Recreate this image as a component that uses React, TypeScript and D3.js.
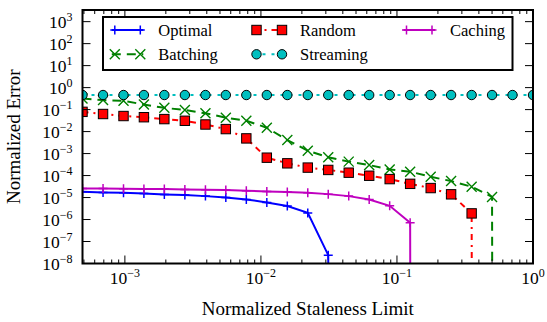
import React from 'react';
import * as d3 from 'd3';

// normalized staleness limits (x positions of all samples)
const staleness = [
  0.000488, 0.000691, 0.000977, 0.00138, 0.00195, 0.00276, 0.00391, 0.00552,
  0.00781, 0.01105, 0.01563, 0.0221, 0.03125, 0.0442, 0.0625, 0.0884,
  0.125, 0.177, 0.25, 0.354, 0.5, 0.707, 1.0,
];

// a 0 means the error dropped to zero (line falls off the bottom)
const optimal = [1.82e-5, 1.71e-5, 1.64e-5, 1.54e-5, 1.39e-5, 1.29e-5, 1.16e-5, 1.01e-5, 8.2e-6, 6.0e-6, 4.1e-6, 2.0e-6, 2.4e-8, 0];
const batching = [0.32, 0.27, 0.25, 0.17, 0.12, 0.096, 0.068, 0.043, 0.031, 0.015, 0.0041, 0.00135, 6.8e-4, 4.3e-4, 3.0e-4, 1.9e-4, 1.5e-4, 8.8e-5, 5.6e-5, 3.1e-5, 1.07e-5, 0];
const random = [0.079, 0.063, 0.051, 0.045, 0.037, 0.031, 0.021, 0.013, 0.0049, 6.5e-4, 3.6e-4, 2.3e-4, 1.8e-4, 1.35e-4, 9.8e-5, 6.9e-5, 4.2e-5, 2.7e-5, 1.4e-5, 1.9e-6, 0];
const streaming = [0.46, 0.46, 0.46, 0.46, 0.46, 0.46, 0.46, 0.46, 0.46, 0.46, 0.46, 0.46, 0.46, 0.46, 0.46, 0.46, 0.46, 0.46, 0.46, 0.46, 0.46, 0.46, 0.46];
const caching = [2.55e-5, 2.55e-5, 2.49e-5, 2.42e-5, 2.42e-5, 2.34e-5, 2.25e-5, 2.18e-5, 2.02e-5, 1.9e-5, 1.77e-5, 1.64e-5, 1.43e-5, 1.16e-5, 8.2e-6, 4.2e-6, 7.1e-7, 0];

const yExponents = [3, 2, 1, 0, -1, -2, -3, -4, -5, -6, -7, -8];
const xExponents = [-3, -2, -1, 0];

const FONT = '"Liberation Serif", "DejaVu Serif", serif';

const series = [
  { name: 'Optimal', values: optimal, color: '#0000ff', dash: null, marker: 'plus' },
  { name: 'Batching', values: batching, color: '#008000', dash: '9,6', marker: 'x' },
  { name: 'Random', values: random, color: '#ff0000', dash: '6,5,2,5', marker: 'square' },
  { name: 'Streaming', values: streaming, color: '#00bfbf', dash: '3,6', marker: 'circle' },
  { name: 'Caching', values: caching, color: '#bf00bf', dash: null, marker: 'plus' },
];

const left = 82.5, right = 533, top = 10, bottom = 263.5;

function Marker({ type, x, y, color }) {
  if (type === 'circle')
    return <circle cx={x} cy={y} r={4.7} fill={color} stroke="#000" strokeWidth={1} />;
  if (type === 'square')
    return <rect x={x - 4.7} y={y - 4.7} width={9.4} height={9.4} fill={color} stroke="#000" strokeWidth={1} />;
  if (type === 'x')
    return <path d={`M${x - 5},${y - 5}L${x + 5},${y + 5}M${x - 5},${y + 5}L${x + 5},${y - 5}`} stroke={color} strokeWidth={1.4} />;
  return <path d={`M${x - 4.5},${y}L${x + 4.5},${y}M${x},${y - 4.5}L${x},${y + 4.5}`} stroke={color} strokeWidth={1.5} />;
}

function Pow({ x, y, exp, anchor }) {
  const e = exp < 0 ? '\u2212' + Math.abs(exp) : String(exp);
  return (
    <text x={x} y={y} textAnchor={anchor} fontFamily={FONT} fontSize={17.5} fill="#000">
      <tspan>10</tspan>
      <tspan dy={-7} fontSize={12}>{e}</tspan>
    </text>
  );
}

export default function App() {
  const x = d3.scaleLog().domain([staleness[0], 1]).range([left, right]);
  const y = d3.scaleLog().domain([1e-8, Math.pow(10, 3.53)]).range([bottom, top]);
  const yv = (v) => (v > 0 ? y(v) : bottom + 10000);

  const line = d3.line<number>()
    .x((_, i) => x(staleness[i]))
    .y((v) => yv(v));

  const minorX = [];
  for (let e = -4; e < 0; e++) {
    for (let m = 2; m <= 9; m++) {
      const v = m * Math.pow(10, e);
      if (v > staleness[0] && v < 1) minorX.push(v);
    }
  }

  const legendRows = [30, 54.3];
  const legendCols = [111.8, 253.5, 403.5];
  const legendItems = series.map((s, i) => ({ ...s, col: Math.floor(i / 2), row: i % 2 }));

  return (
    <svg width={547} height={322} style={{ position: 'fixed', left: 0, top: 0, background: '#fff' }}>
      <defs>
        <clipPath id="plot">
          <rect x={left} y={top} width={right - left} height={bottom - top} />
        </clipPath>
      </defs>
      <rect width={547} height={322} fill="#fff" />

      <g clipPath="url(#plot)">
        {series.map((s) => (
          <g key={s.name}>
            <path d={line(s.values)} fill="none" stroke={s.color} strokeWidth={2}
              strokeDasharray={s.dash || undefined} />
            {s.values.map((v, i) => v > 0 && (
              <Marker key={i} type={s.marker} x={x(staleness[i])} y={y(v)} color={s.color} />
            ))}
          </g>
        ))}
      </g>

      {/* ticks */}
      <g stroke="#000" strokeWidth={1}>
        {yExponents.map((e) => (
          <g key={e}>
            <line x1={left} x2={left + 8} y1={y(Math.pow(10, e))} y2={y(Math.pow(10, e))} />
            <line x1={right} x2={right - 8} y1={y(Math.pow(10, e))} y2={y(Math.pow(10, e))} />
          </g>
        ))}
        {xExponents.map((e) => (
          <g key={e}>
            <line x1={x(Math.pow(10, e))} x2={x(Math.pow(10, e))} y1={bottom} y2={bottom - 8} />
            <line x1={x(Math.pow(10, e))} x2={x(Math.pow(10, e))} y1={top} y2={top + 8} />
          </g>
        ))}
        {minorX.map((v) => (
          <g key={v}>
            <line x1={x(v)} x2={x(v)} y1={bottom} y2={bottom - 4} />
            <line x1={x(v)} x2={x(v)} y1={top} y2={top + 4} />
          </g>
        ))}
      </g>

      <rect x={left} y={top} width={right - left} height={bottom - top} fill="none" stroke="#000" strokeWidth={2} />

      {yExponents.map((e) => (
        <Pow key={e} x={72.5} y={y(Math.pow(10, e)) + 6} exp={e} anchor="end" />
      ))}
      {xExponents.map((e) => (
        <Pow key={e} x={x(Math.pow(10, e))} y={284} exp={e} anchor="middle" />
      ))}

      <text x={(left + right) / 2} y={315} textAnchor="middle" fontFamily={FONT} fontSize={19}>
        Normalized Staleness Limit
      </text>
      <text transform={`translate(20,${(top + bottom) / 2}) rotate(-90)`} textAnchor="middle"
        fontFamily={FONT} fontSize={19}>
        Normalized Error
      </text>

      {/* legend */}
      <rect x={103} y={17} width={409.5} height={53} fill="#fff" stroke="#000" strokeWidth={2} />
      {legendItems.map((s) => {
        const x0 = legendCols[s.col];
        const ly = legendRows[s.row];
        return (
          <g key={s.name}>
            <line x1={x0} x2={x0 + 31.5} y1={ly} y2={ly} stroke={s.color} strokeWidth={2}
              strokeDasharray={s.dash || undefined} />
            <Marker type={s.marker} x={x0 + 3} y={ly} color={s.color} />
            <Marker type={s.marker} x={x0 + 28.5} y={ly} color={s.color} />
            <text x={x0 + 46.5} y={ly + 5.7} fontFamily={FONT} fontSize={16.5}>{s.name}</text>
          </g>
        );
      })}
    </svg>
  );
}
